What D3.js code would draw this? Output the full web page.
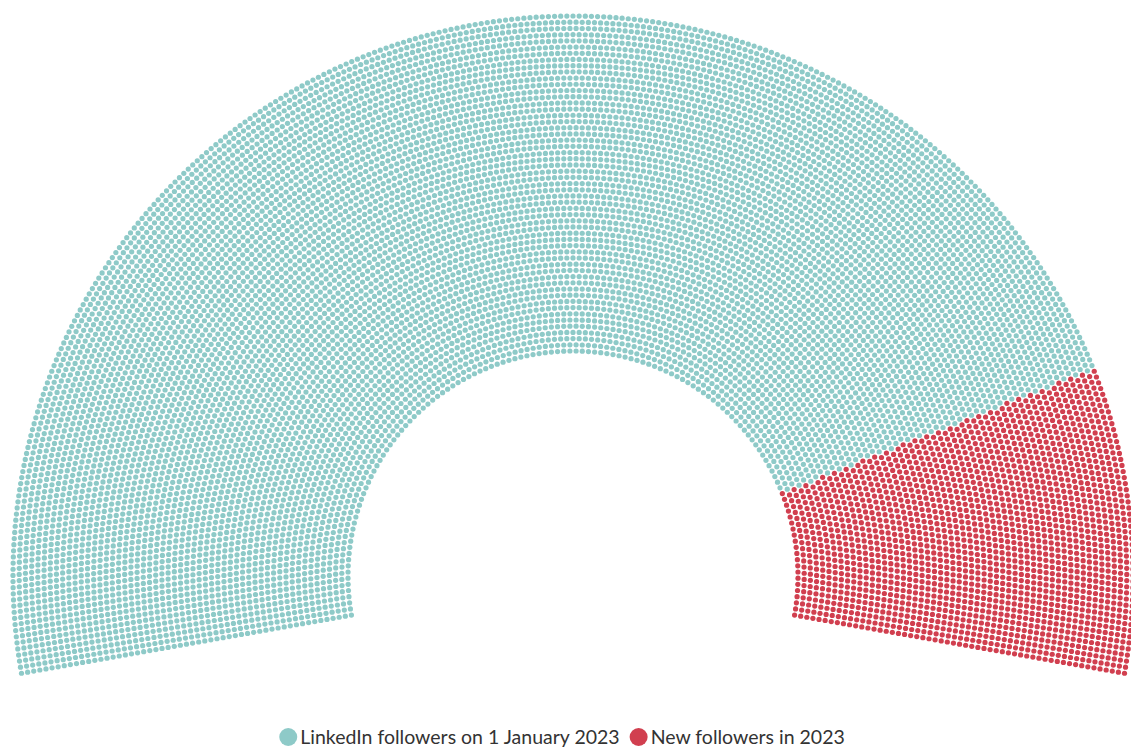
<!DOCTYPE html>
<html>
<head>
<meta charset="utf-8">
<script src="https://cdn.jsdelivr.net/npm/d3@7"></script>
<style>
  body { margin: 0; background: #fff; }
  svg { display: block; }
</style>
</head>
<body>
<div id="chart"></div>
<script>
// groups in order, left to right
var groups = ["LinkedIn followers on 1 January 2023", "New followers in 2023"];
var counts = [10340, 1970];
var colors = ["#8ecac8", "#d13f4f"];

var width = 1131, height = 749;
var cx = 573, cy = 576;
var rows = 55;
var innerR = 225, outerR = 560;
var dotR = 2.6;

var svg = d3.select("#chart").append("svg")
  .attr("width", width)
  .attr("height", height);

var total = d3.sum(counts);

// radius of each row
var rowScale = d3.scaleLinear().domain([0, rows - 1]).range([innerR, outerR]);
var radii = d3.range(rows).map(function(i){ return rowScale(i); });
var sumR = d3.sum(radii);

// seats per row, proportional to radius
var perRow = radii.map(function(r){ return Math.round(total * r / sumR); });
var diff = total - d3.sum(perRow);
perRow[rows - 1] += diff;

// angle in degrees, 190 = left end, -10 = right end
var seats = [];
radii.forEach(function(r, i){
  var n = perRow[i];
  var ang = d3.scaleLinear().domain([0, n - 1]).range([190, -10]);
  for (var j = 0; j < n; j++) {
    seats.push({ r: r, a: ang(j) });
  }
});

seats.sort(function(a, b){ return b.a - a.a || a.r - b.r; });

var cum = d3.cumsum(counts);
seats.forEach(function(s, k){
  s.g = d3.bisectRight(cum, k);
});

svg.append("g")
  .selectAll("circle")
  .data(seats)
  .enter()
  .append("circle")
  .attr("cx", function(d){ return cx + d.r * Math.cos(d.a * Math.PI / 180); })
  .attr("cy", function(d){ return cy - d.r * Math.sin(d.a * Math.PI / 180); })
  .attr("r", dotR)
  .attr("fill", function(d){ return colors[d.g]; });

// legend
var legend = svg.append("g").attr("transform", "translate(0,737)");
var items = legend.selectAll(".item")
  .data(groups)
  .enter()
  .append("g")
  .attr("class", "item");

items.append("circle")
  .attr("r", 9)
  .attr("cy", 0)
  .attr("fill", function(d, i){ return colors[i]; });

items.append("text")
  .attr("x", 12)
  .attr("dy", "0.35em")
  .attr("font-family", "Lato, 'Noto Sans', sans-serif")
  .attr("font-size", 19.5)
  .attr("fill", "#333")
  .text(function(d){ return d; });

var x = 0;
var offsets = [];
items.each(function(d, i){
  offsets.push(x);
  var w = 12 + this.querySelector("text").getComputedTextLength();
  x += w + 19;
});
var legendW = x - 19 + 9;
var startX = 562 - legendW / 2 + 9;
items.attr("transform", function(d, i){ return "translate(" + (startX + offsets[i]) + ",0)"; });
</script>
</body>
</html>
